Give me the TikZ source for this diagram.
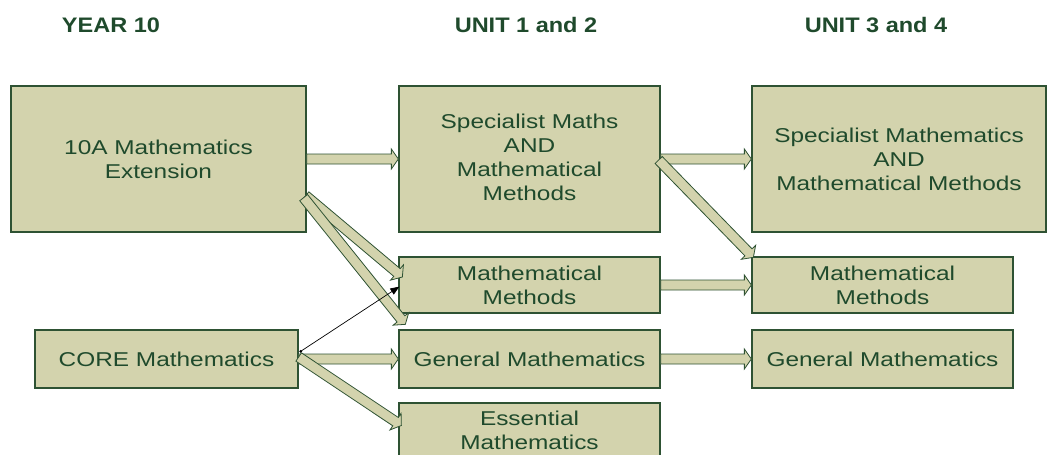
\documentclass[tikz,border=0pt]{standalone}
\usepackage{fontspec}
\setmainfont{Liberation Sans}
\newfontfamily\bodyfont[FakeStretch=1.22]{Liberation Sans}
\newfontfamily\headfont[FakeStretch=1.12]{Liberation Sans}
\usetikzlibrary{calc,arrows.meta}
\definecolor{boxfill}{HTML}{D3D3AD}
\definecolor{boxline}{HTML}{2E5233}
\definecolor{txt}{HTML}{1F4A2C}
\newcommand\fatarrow[2]{%
  \coordinate (fah) at ($(#2)!7pt!(#1)$);
  \draw[fat] ($(#1)!5pt!90:(#2)$) -- ($(fah)!5pt!90:(#2)$) -- ($(fah)!10pt!90:(#2)$)
    -- (#2) -- ($(fah)!10pt!-90:(#2)$) -- ($(fah)!5pt!-90:(#2)$) -- ($(#1)!5pt!-90:(#2)$) -- cycle;}
\begin{document}
\begin{tikzpicture}[x=1pt,y=-1pt,
  box/.style={draw=boxline, line width=1.3pt, fill=boxfill, text=txt,
    font=\bodyfont\fontsize{20}{24}\selectfont, align=center, inner sep=0pt},
  boxtext/.style={text=txt, font=\bodyfont\fontsize{20}{24}\selectfont, align=center, inner sep=0pt},
  heading/.style={text=txt, font=\headfont\bfseries\fontsize{21}{25}\selectfont},
  fat/.style={draw=boxline, line width=0.8pt, fill=boxfill, line join=miter}]
\useasboundingbox (0,0) rectangle (1060,455);

\node[heading] (h1) at (111,25) {YEAR 10};
\node[heading] (h2) at (526,25) {UNIT 1 and 2};
\node[heading] (h3) at (876,25) {UNIT 3 and 4};

\node[box, minimum width=295, minimum height=146] (ext) at (158.5,159) {10A Mathematics\\Extension};
\node[box, minimum width=261, minimum height=146] (sp12) at (529.5,159) {};
\node[boxtext] (sp12t) at ($(sp12.center)+(0,-2)$) {Specialist Maths\\AND\\Mathematical\\Methods};
\node[box, minimum width=294, minimum height=146] (sp34) at (899,159) {Specialist Mathematics\\AND\\Mathematical Methods};
\node[box, minimum width=261, minimum height=56] (mm12) at (529.5,285) {Mathematical\\Methods};
\node[box, minimum width=261, minimum height=56] (mm34) at (882.5,285) {Mathematical\\Methods};
\node[box, minimum width=263, minimum height=58] (core) at (166.5,359) {CORE Mathematics};
\node[box, minimum width=261, minimum height=58] (gm12) at (529.5,359) {General Mathematics};
\node[box, minimum width=261, minimum height=58] (gm34) at (882.5,359) {General Mathematics};
\node[box, minimum width=261, minimum height=55] (ess) at (529.5,430.5) {Essential\\Mathematics};

% arrow end points
\coordinate (a1) at ($(ext.south east)+(-1,-37)$);
\coordinate (a2) at ($(mm12.west)+(4,-8)$);
\coordinate (b1) at ($(ext.south east)+(-3,-35)$);
\coordinate (b2) at ($(gm12.north west)+(7,-5)$);
\coordinate (c1) at ($(sp12.east)+(-2,1)$);
\coordinate (c2) at ($(mm34.north west)+(2,1)$);
\coordinate (d1) at ($(core.east)+(0,-2)$);
\coordinate (d2) at ($(ess.west)+(3,-5)$);
\coordinate (t1) at ($(core.north east)+(2,22)$);
\coordinate (t2) at ($(mm12.south west)+(1,-27)$);

\fatarrow{ext.east}{sp12.west}
\fatarrow{sp12.east}{sp34.west}
\fatarrow{mm12.east}{mm34.west}
\fatarrow{gm12.east}{gm34.west}
\fatarrow{core.east}{gm12.west}
\fatarrow{a1}{a2}
\fatarrow{b1}{b2}
\fatarrow{c1}{c2}
\fatarrow{d1}{d2}

\fill (t1) circle (1.5);
\draw[-{Triangle[length=9pt,width=7pt]}, line width=0.7pt, black] (t1) -- (t2);
\end{tikzpicture}
\end{document}
